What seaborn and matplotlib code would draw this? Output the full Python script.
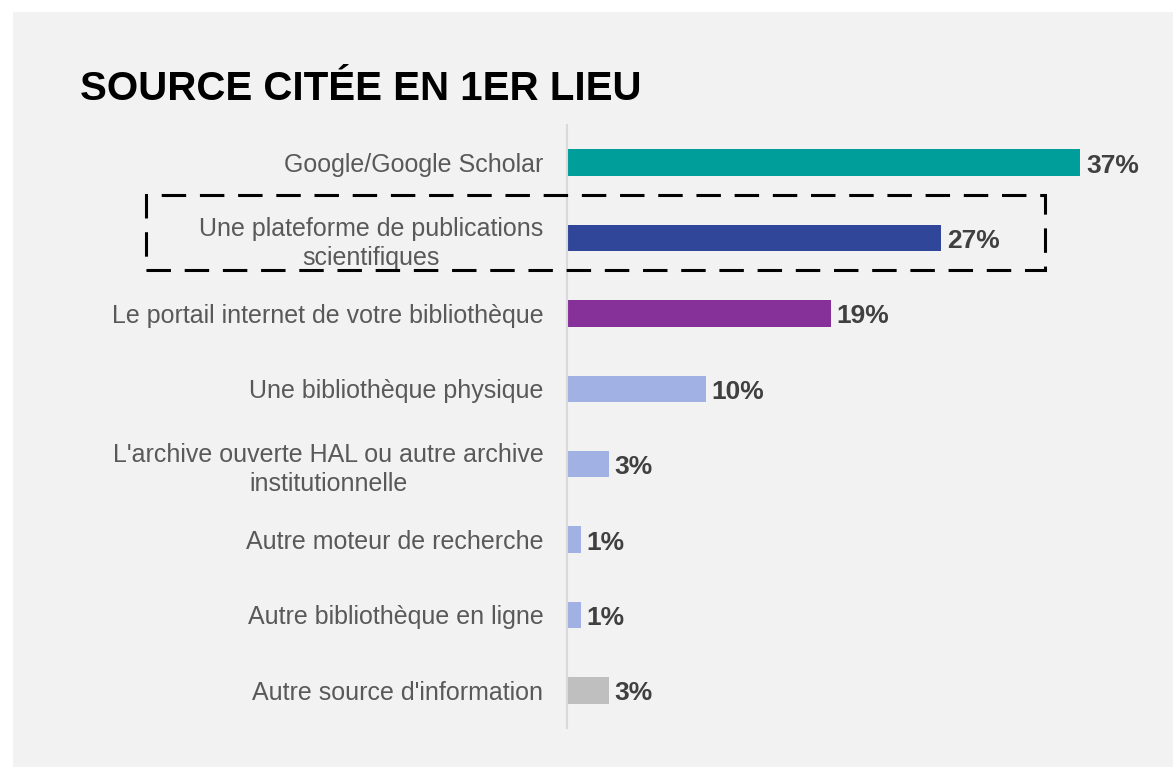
import pandas as pd
import matplotlib.pyplot as plt
import seaborn as sns
from matplotlib.patches import Rectangle

# Chart data
categories = [
    "Google/Google Scholar",
    "Une plateforme de publications\nscientifiques",
    "Le portail internet de votre bibliothèque",
    "Une bibliothèque physique",
    "L'archive ouverte HAL ou autre archive\ninstitutionnelle",
    "Autre moteur de recherche",
    "Autre bibliothèque en ligne",
    "Autre source d'information",
]
values = [37, 27, 19, 10, 3, 1, 1, 3]
bar_colors = ["#009E9A", "#2F4699", "#86309A", "#A2B1E3",
              "#A2B1E3", "#A2B1E3", "#A2B1E3", "#BFBFBF"]
title = "SOURCE CITÉE EN 1ER LIEU"

df = pd.DataFrame({"Source": categories, "Pct": values})

sns.set_theme(style="white")
plt.rcParams["font.family"] = ["Liberation Sans", "DejaVu Sans"]

W, H = 1173, 767
fig = plt.figure(figsize=(W / 100, H / 100), dpi=100, facecolor="white")

# gray panel behind everything
fig.patches.append(Rectangle((13 / W, 0), 1 - 13 / W, 1 - 12 / H,
                             transform=fig.transFigure, facecolor="#F2F2F2",
                             edgecolor="none", zorder=-10))

# axes: zero line at x=567px, rows from y=125 to y=728
ax = fig.add_axes([567 / W, 1 - 728 / H, (1173 - 567) / W, (728 - 125) / H])
ax.set_facecolor("none")

sns.barplot(data=df, y="Source", x="Pct", hue="Source", palette=bar_colors,
            orient="h", width=0.35, legend=False, ax=ax, saturation=1,
            linewidth=0)

scale_px = 13.87  # pixels per percent
ax.set_xlim(0, (1173 - 567) / scale_px)
ax.set_ylim(len(categories) - 0.5, -0.5)

for i, v in enumerate(values):
    ax.annotate(f"{v}%", xy=(v, i), xytext=(6, -3), textcoords="offset pixels",
                ha="left", va="center", fontsize=19, fontweight="bold",
                color="#404040")

ax.set_xlabel("")
ax.set_ylabel("")
ax.set_xticks([])
ax.tick_params(axis="y", length=0, pad=17, labelsize=18, labelcolor="#595959")
for lbl in ax.get_yticklabels():
    lbl.set_horizontalalignment("right")
    lbl.set_multialignment("center")
    lbl.set_linespacing(1.3)

for side in ["top", "right", "bottom"]:
    ax.spines[side].set_visible(False)
ax.spines["left"].set_color("#D9D9D9")
ax.spines["left"].set_linewidth(1.5)

fig.text(80 / W, 1 - 100 / H, title, fontsize=29, fontweight="bold",
         color="black", ha="left", va="baseline")

# dashed highlight box around the second row
fig.patches.append(Rectangle((146 / W, 1 - 270 / H), (1045 - 146) / W, (270 - 195) / H,
                             transform=fig.transFigure, fill=False,
                             edgecolor="black", linewidth=2.2,
                             linestyle=(0, (8, 4.5)), zorder=5))

fig.savefig("out.png", dpi=100, facecolor=fig.get_facecolor())
